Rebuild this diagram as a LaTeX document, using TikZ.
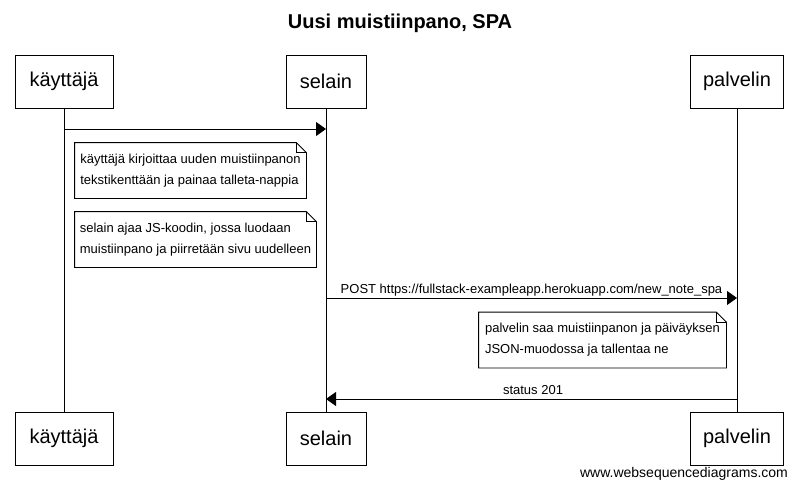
\documentclass[tikz,border=0pt]{standalone}
\usepackage{fontspec}
\setmainfont{Liberation Sans}
\usetikzlibrary{arrows.meta}

\begin{document}
\begin{tikzpicture}[x=1pt,y=-1pt,line width=0.8pt,
			actor/.style={
				draw,
				minimum height=53pt,
				font=\fontsize{20}{24}\selectfont},
			note/.style={
				align=left,
				inner sep=0pt,
				minimum height=55pt,
				font=\fontsize{13}{21}\selectfont},
			msg/.style={-{Triangle[length=10pt,width=14pt]}},
			msgtext/.style={font=\fontsize{13}{15}\selectfont,anchor=base},
			>=Latex]
			
			\useasboundingbox (0,0) rectangle (798,490);
			
			\node[font=\fontsize{20}{24}\selectfont\bfseries] (title) at (400,23) {Uusi muistiinpano, SPA};
			
			% osapuolet ylhaalla ja alhaalla
			\node[actor,minimum width=98pt] (kt) at (64,81.5) {käyttäjä};
			\node[actor,minimum width=80pt] (sel) at (326,81.5) {selain};
			\node[actor,minimum width=93pt] (pal) at (737,81.5) {palvelin};
			
			\node[actor,minimum width=98pt] (kt2) at (64,438.5) {käyttäjä};
			\node[actor,minimum width=80pt] (sel2) at (326,438.5) {selain};
			\node[actor,minimum width=93pt] (pal2) at (737,438.5) {palvelin};
			
			\draw (kt)--(kt2);
			\draw (sel)--(sel2);
			\draw (pal)--(pal2);
			
			% viestit
			\coordinate (kt1) at (64,129);
			\coordinate (sel1) at (326,129);
			\draw[msg] (kt1)--(sel1);
			
			\coordinate (selpost) at (326,298);
			\coordinate (palpost) at (737,298);
			\draw[msg] (selpost)--(palpost);
			\node[msgtext] (post) at (531.5,293) {POST https://fullstack-exampleapp.herokuapp.com/new\_note\_spa};
			
			\coordinate (palst) at (737,399);
			\coordinate (selst) at (326,399);
			\draw[msg] (palst)--(selst);
			\node[msgtext] (st) at (533,394) {status 201};
			
			% muistiinpanot
			\node[note,minimum width=231pt] (n1) at (190.5,170.5) {käyttäjä kirjoittaa uuden muistiinpanon\\tekstikenttään ja painaa talleta-nappia};
			\node[note,minimum width=241pt] (n2) at (195.5,239.5) {selain ajaa JS-koodin, jossa luodaan\\muistiinpano ja piirretään sivu uudelleen};
			\node[note,minimum width=247pt] (n3) at (602.5,340) {palvelin saa muistiinpanon ja päiväyksen\\JSON-muodossa ja tallentaa ne};
			
			\foreach \n in {n1,n2,n3}{
				\draw (\n.south west)--(\n.north west)--([xshift=-10pt]\n.north east)
					--([yshift=-10pt]\n.north east)--(\n.south east)--cycle;
				\draw ([xshift=-10pt]\n.north east)--([xshift=-10pt,yshift=-10pt]\n.north east)
					--([yshift=-10pt]\n.north east);
			}
			
			\node[font=\fontsize{14}{16}\selectfont] (wsd) at (684,474) {www.websequencediagrams.com};
			
		\end{tikzpicture}
\end{document}
